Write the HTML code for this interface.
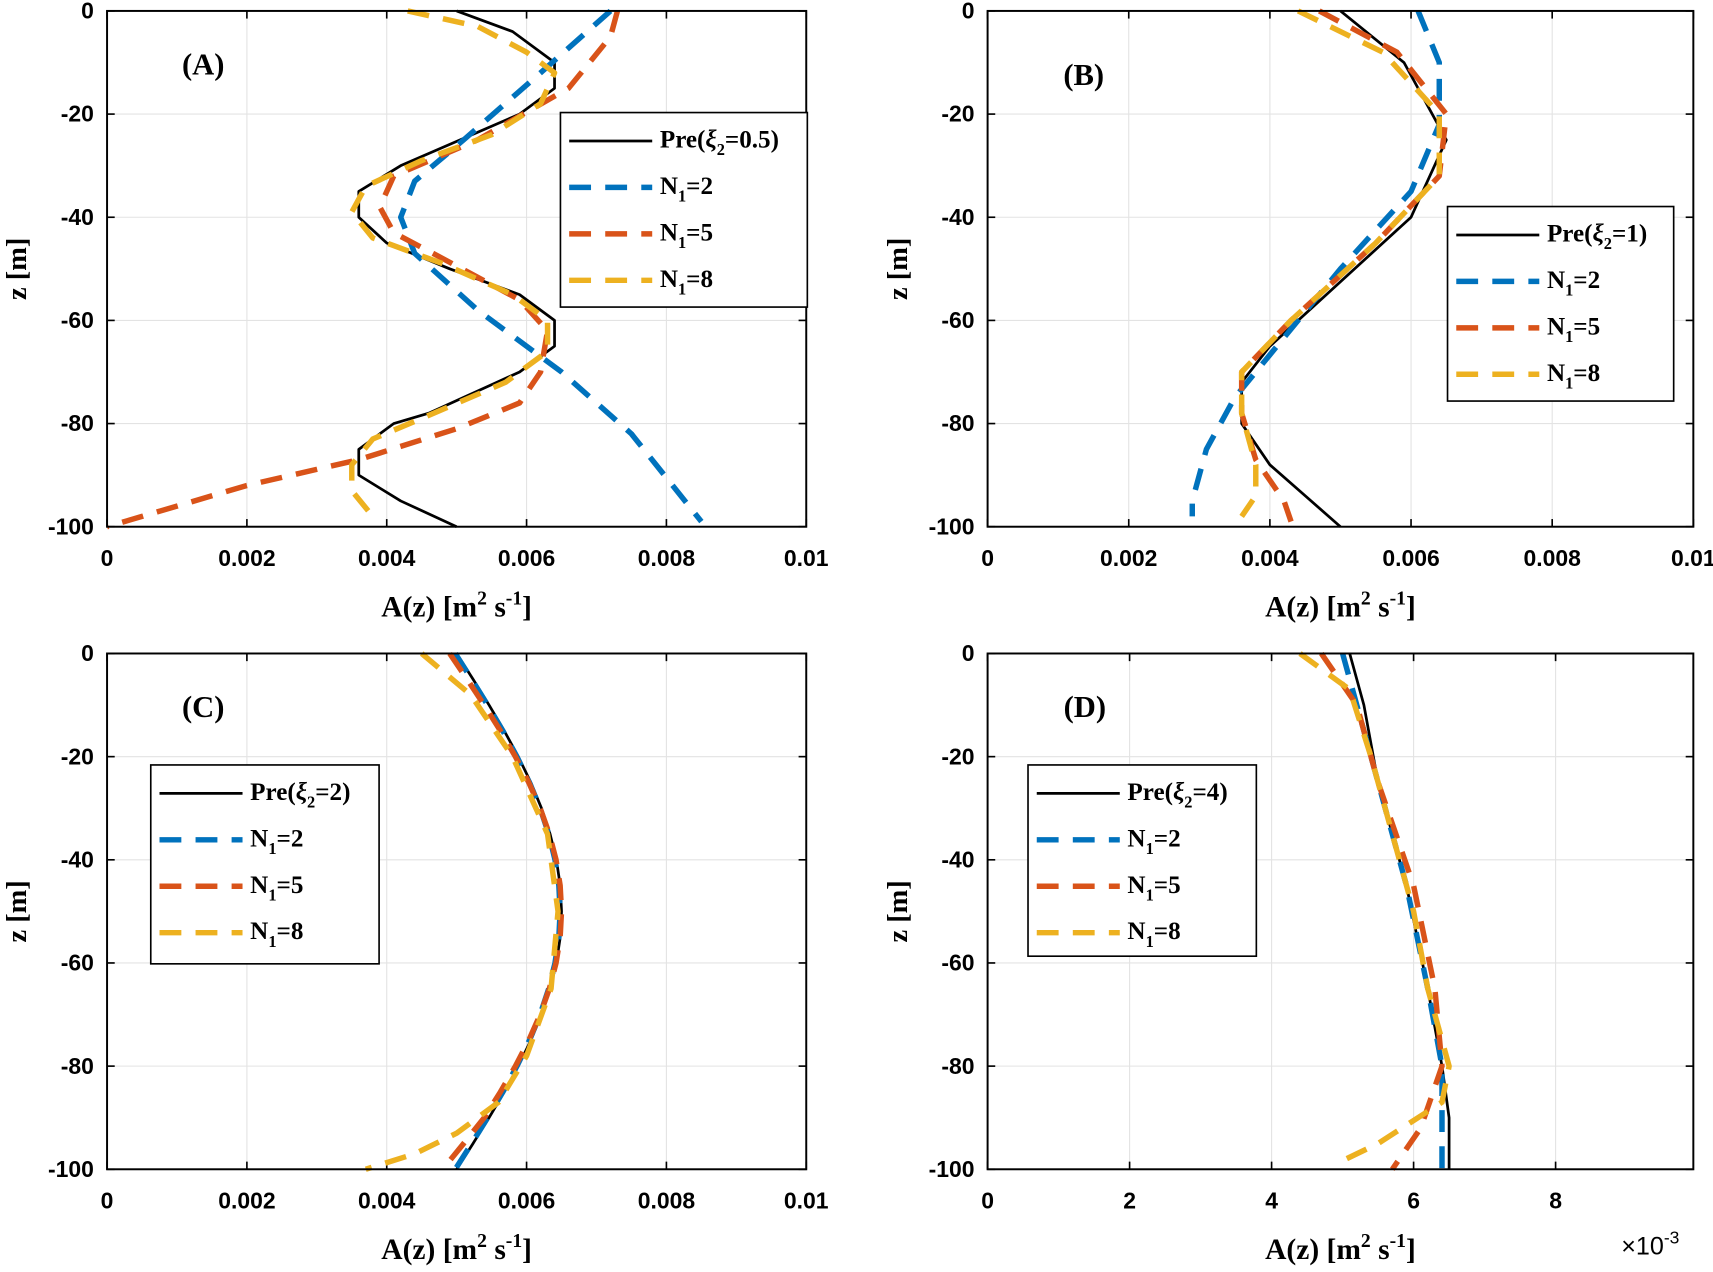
<!DOCTYPE html>
<html><head><meta charset="utf-8"><style>
html,body{margin:0;padding:0;background:#fff;}
svg{display:block;}
.t{font-family:"Liberation Sans",sans-serif;font-weight:bold;font-size:21px;fill:#000;}
.s{font-family:"Liberation Serif",serif;font-weight:bold;fill:#000;}
</style></head><body>
<svg id="c" width="1713" height="1272" viewBox="0 0 1568 1164" preserveAspectRatio="none" xmlns="http://www.w3.org/2000/svg"></svg>
<script>
var svgEl=document.getElementById('c');var h='';
var C={k:'#000',b:'#0072BD',r:'#D95319',y:'#EDB120'};
function panel(P){
 var x0=P.x0,x1=P.x1,y0=P.y0,y1=P.y1,xmax=P.xmax;
 var X=function(v){return x0+(v/xmax)*(x1-x0);}, Y=function(z){return y0+(-z/100)*(y1-y0);};
 P.xt.forEach(function(t){var x=X(t[0]);h+='<line x1="'+x+'" y1="'+y0+'" x2="'+x+'" y2="'+y1+'" stroke="#e3e3e3" stroke-width="1"/>';
  h+='<text class="t" x="'+x+'" y="'+(y1+36)+'" text-anchor="middle">'+t[1]+'</text>';
  h+='<line x1="'+x+'" y1="'+y1+'" x2="'+x+'" y2="'+(y1-7)+'" stroke="#000" stroke-width="1.5"/><line x1="'+x+'" y1="'+y0+'" x2="'+x+'" y2="'+(y0+7)+'" stroke="#000" stroke-width="1.5"/>';});
 for(var z=0;z>=-100;z-=20){var y=Y(z);h+='<line x1="'+x0+'" y1="'+y+'" x2="'+x1+'" y2="'+y+'" stroke="#e3e3e3" stroke-width="1"/>';
  h+='<line x1="'+x0+'" y1="'+y+'" x2="'+(x0+7)+'" y2="'+y+'" stroke="#000" stroke-width="1.5"/><line x1="'+x1+'" y1="'+y+'" x2="'+(x1-7)+'" y2="'+y+'" stroke="#000" stroke-width="1.5"/>';
  h+='<text class="t" x="'+(x0-12)+'" y="'+(y+7)+'" text-anchor="end">'+z+'</text>';}
 function draw(pts,col,dash){h+='<polyline fill="none" stroke="'+col+'" stroke-width="'+(dash?5:2.5)+'" '+(dash?'stroke-dasharray="20 13"':'')+' stroke-linejoin="round" points="'+pts.map(function(p){return X(p[0]/1000)+','+Y(p[1]);}).join(' ')+'"/>';}
 draw(P.k,C.k,false);draw(P.b,C.b,true);draw(P.r,C.r,true);draw(P.y,C.y,true);
 h+='<rect x="'+x0+'" y="'+y0+'" width="'+(x1-x0)+'" height="'+(y1-y0)+'" fill="none" stroke="#000" stroke-width="1.8"/>';
 h+='<text class="s" font-size="28" x="'+P.lx+'" y="'+P.ly+'" text-anchor="middle">'+P.lab+'</text>';
 var cx=(x0+x1)/2;
 h+='<text class="s" font-size="27" x="'+cx+'" y="'+(y1+82)+'" text-anchor="middle">A(z) [m<tspan font-size="18" dy="-11">2</tspan><tspan dy="11"> s</tspan><tspan font-size="18" dy="-11">-1</tspan><tspan dy="11">]</tspan></text>';
 h+='<text class="s" font-size="26" transform="translate('+(x0-74)+','+((y0+y1)/2)+') rotate(-90)" text-anchor="middle">z [m]</text>';
 var lx=P.leg[0],ly=P.leg[1],lw=P.leg[2],lh=P.leg[3];
 h+='<rect x="'+lx+'" y="'+ly+'" width="'+lw+'" height="'+lh+'" fill="#fff" stroke="#000" stroke-width="1.5"/>';
 var rows=[[C.k,false,'Pre(<tspan font-style="italic">ξ</tspan><tspan font-size="15" dy="7">2</tspan><tspan dy="-7">='+P.xi+')</tspan>'],[C.b,true,'N<tspan font-size="15" dy="7">1</tspan><tspan dy="-7">=2</tspan>'],[C.r,true,'N<tspan font-size="15" dy="7">1</tspan><tspan dy="-7">=5</tspan>'],[C.y,true,'N<tspan font-size="15" dy="7">1</tspan><tspan dy="-7">=8</tspan>']];
 rows.forEach(function(r,i){var y=ly+26+i*42.5;
  h+='<line x1="'+(lx+8)+'" y1="'+y+'" x2="'+(lx+84)+'" y2="'+y+'" stroke="'+r[0]+'" stroke-width="'+(r[1]?5:2.5)+'" '+(r[1]?'stroke-dasharray="20 13"':'')+'/>';
  h+='<text class="s" font-size="23" x="'+(lx+91)+'" y="'+(y+6)+'">'+r[2]+'</text>';});
}
function sinArc(a,b,off){var p=[];for(var d=0;d<=100;d+=5)p.push([a+b*Math.sin(Math.PI*d/100)+(off?off(d):0),-d]);return p;}
var xt1=[[0,'0'],[0.002,'0.002'],[0.004,'0.004'],[0.006,'0.006'],[0.008,'0.008'],[0.01,'0.01']];
panel({x0:98,x1:738,y0:10,y1:482,xmax:0.01,xt:xt1,lab:'(A)',lx:186,ly:68,xi:'0.5',leg:[513,103,226,178],
 k:[[5,0],[5.8,-4],[6.4,-10],[6.4,-15],[5.9,-20],[4.2,-30],[3.6,-35],[3.6,-40],[4,-45],[4.9,-50],[5.9,-55],[6.4,-60],[6.4,-65],[5.9,-70],[4.6,-78],[4.1,-80],[3.6,-85],[3.6,-90],[4.2,-95],[5,-100]],
 b:[[7.2,0],[6.2,-12],[5.1,-25],[4.4,-33],[4.2,-40],[4.4,-47],[5.3,-58],[6.5,-70],[7.5,-82],[8.5,-99]],
 r:[[7.3,0],[7.2,-5],[6.6,-15],[5.3,-25],[4.1,-32],[3.9,-38],[4.1,-43],[4.8,-48],[5.9,-56],[6.3,-62],[6.2,-70],[5.9,-76],[5,-81],[3.6,-87],[2,-92],[0.5,-98],[0,-100]],
 y:[[4.3,0],[5.3,-3],[6,-8],[6.4,-12],[6.2,-18],[5.5,-24],[4.5,-29],[3.7,-34],[3.5,-39],[3.8,-44],[4.8,-49],[5.8,-55],[6.3,-60],[6.3,-66],[5.7,-72],[4.5,-79],[3.8,-83],[3.5,-88],[3.5,-93],[3.8,-98]]});
panel({x0:904,x1:1550,y0:10,y1:482,xmax:0.01,xt:xt1,lab:'(B)',lx:992,ly:78,xi:'1',leg:[1325,189,207,178],
 k:[[5,0],[5.9,-10],[6.5,-25],[6,-40],[4.8,-55],[4,-65],[3.6,-72],[3.6,-80],[4,-88],[4.5,-94],[5,-100]],
 b:[[6.1,0],[6.4,-10],[6.4,-22],[6,-35],[5,-50],[4.1,-65],[3.5,-75],[3.1,-85],[2.9,-95],[2.9,-98]],
 r:[[4.7,0],[5.8,-8],[6.5,-20],[6.4,-32],[5.5,-45],[4.3,-60],[3.6,-70],[3.6,-78],[3.8,-87],[4.2,-95],[4.3,-99]],
 y:[[4.4,0],[5.6,-8],[6.4,-20],[6.4,-32],[5.5,-45],[4.3,-60],[3.6,-70],[3.6,-78],[3.8,-88],[3.8,-94],[3.6,-98]]});
panel({x0:98,x1:738,y0:598,y1:1070,xmax:0.01,xt:xt1,lab:'(C)',lx:186,ly:656,xi:'2',leg:[138,700,209,182],
 k:sinArc(5,1.5),
 b:sinArc(4.98,1.5),
 r:sinArc(4.9,1.6,function(d){return d>90?-(d-90)*0.01:0;}),
 y:[[4.5,0],[5.2,-8],[5.8,-20],[6.3,-35],[6.45,-50],[6.35,-65],[6.0,-78],[5.6,-87],[5.0,-93],[4.4,-97],[3.7,-100]]});
panel({x0:904,x1:1550,y0:598,y1:1070,xmax:0.00994,xt:[[0,'0'],[0.002,'2'],[0.004,'4'],[0.006,'6'],[0.008,'8']],lab:'(D)',lx:993,ly:656,xi:'4',leg:[941,700,209,175],
 k:[[5.1,0],[5.3,-10],[5.5,-25],[5.9,-45],[6.2,-65],[6.4,-80],[6.5,-90],[6.5,-100]],
 b:[[5,0],[5.2,-10],[5.5,-25],[5.9,-45],[6.2,-65],[6.4,-80],[6.4,-92],[6.4,-100]],
 r:[[4.7,0],[5.2,-10],[5.5,-25],[6,-45],[6.3,-65],[6.4,-80],[6.1,-92],[5.7,-100]],
 y:[[4.4,0],[5.1,-7],[5.4,-20],[5.7,-35],[6,-50],[6.2,-65],[6.5,-80],[6.4,-87],[5.5,-95],[4.9,-99]]});
h+='<text font-family="Liberation Sans,sans-serif" font-size="23" x="1484" y="1148">×10<tspan font-size="16" dy="-10">-3</tspan></text>';
svgEl.innerHTML=h;
</script>
</body></html>
